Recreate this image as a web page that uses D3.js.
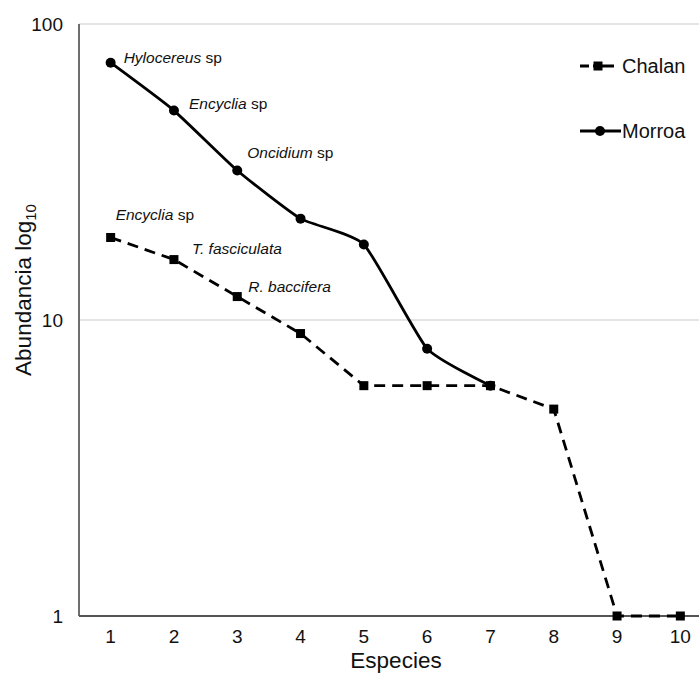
<!DOCTYPE html>
<html lang="es">
<head>
    <meta charset="UTF-8">
    <title>Abundancia por especie</title>
    <script src="https://d3js.org/d3.v7.min.js"></script>
    <style>
        body {
            margin: 0;
            background-color: white;
            font-family: "Liberation Sans", Arial, sans-serif;
        }
        svg {
            display: block;
        }
        .tick-label {
            font-size: 19px;
            fill: #111;
        }
        .axis-title {
            font-size: 22.5px;
            fill: #111;
        }
        .legend-text {
            font-size: 20px;
            fill: #111;
        }
        .note {
            font-size: 15.5px;
            fill: #111;
        }
    </style>
</head>
<body>
    <svg width="699" height="673"></svg>

    <script>
        const species = [1, 2, 3, 4, 5, 6, 7, 8, 9, 10];
        const chalan = [19, 16, 12, 9, 6, 6, 6, 5, 1, 1];
        const morroa = [74, 51, 32, 22, 18, 8, 6];
        const yTicks = [1, 10, 100];

        // species names written next to the first three points of each site
        const morroaNotes = [["Hylocereus", " sp"], ["Encyclia", " sp"], ["Oncidium", " sp"]];
        const chalanNotes = [["Encyclia", " sp"], ["T. fasciculata", ""], ["R. baccifera", ""]];

        const svg = d3.select("svg"),
              plotLeft = 79, plotRight = 712, plotTop = 24, plotBottom = 616;

        const x = d3.scalePoint()
            .domain(species)
            .range([plotLeft, plotRight])
            .padding(0.5);

        const y = d3.scaleLog()
            .domain([1, 100])
            .range([plotBottom, plotTop]);

        // gridlines at 10 and 100
        svg.append("g")
            .selectAll("line")
            .data(yTicks.filter(d => d > 1))
            .enter().append("line")
            .attr("x1", plotLeft)
            .attr("x2", 699)
            .attr("y1", d => y(d))
            .attr("y2", d => y(d))
            .attr("stroke", "#dcdcdc")
            .attr("stroke-width", 1.5);

        // axes
        svg.append("line")
            .attr("x1", plotLeft).attr("x2", plotLeft)
            .attr("y1", plotTop).attr("y2", plotBottom)
            .attr("stroke", "#6e6e6e")
            .attr("stroke-width", 2);

        svg.append("line")
            .attr("x1", plotLeft).attr("x2", 699)
            .attr("y1", plotBottom).attr("y2", plotBottom)
            .attr("stroke", "#555")
            .attr("stroke-width", 2);

        svg.append("g")
            .selectAll("text")
            .data(yTicks)
            .enter().append("text")
            .attr("class", "tick-label")
            .attr("x", plotLeft - 16)
            .attr("y", d => y(d) + 7)
            .attr("text-anchor", "end")
            .text(d => d);

        svg.append("g")
            .selectAll("text")
            .data(species)
            .enter().append("text")
            .attr("class", "tick-label")
            .attr("x", d => x(d))
            .attr("y", 643)
            .attr("text-anchor", "middle")
            .text(d => d);

        svg.append("text")
            .attr("class", "axis-title")
            .attr("x", 396)
            .attr("y", 668)
            .attr("text-anchor", "middle")
            .text("Especies");

        const yTitle = svg.append("text")
            .attr("class", "axis-title")
            .attr("transform", "translate(31,290) rotate(-90)")
            .attr("text-anchor", "middle");
        yTitle.append("tspan").text("Abundancia log");
        yTitle.append("tspan").attr("font-size", "15px").attr("dy", 5).text("10");

        // series
        const chalanPts = chalan.map((v, i) => [x(species[i]), y(v)]);
        const morroaPts = morroa.map((v, i) => [x(species[i]), y(v)]);

        svg.append("path")
            .attr("d", d3.line()(chalanPts))
            .attr("fill", "none")
            .attr("stroke", "#000")
            .attr("stroke-width", 2.8)
            .attr("stroke-dasharray", "11,7");

        svg.append("g")
            .selectAll("rect")
            .data(chalanPts)
            .enter().append("rect")
            .attr("x", d => d[0] - 4.5)
            .attr("y", d => d[1] - 4.5)
            .attr("width", 9)
            .attr("height", 9)
            .attr("fill", "#000");

        svg.append("path")
            .attr("d", d3.line().curve(d3.curveCardinal.tension(0.5))(morroaPts))
            .attr("fill", "none")
            .attr("stroke", "#000")
            .attr("stroke-width", 2.8);

        svg.append("g")
            .selectAll("circle")
            .data(morroaPts)
            .enter().append("circle")
            .attr("cx", d => d[0])
            .attr("cy", d => d[1])
            .attr("r", 5)
            .attr("fill", "#000");

        // species notes
        function addNotes(notes, pts, offsets) {
            notes.forEach((n, i) => {
                const t = svg.append("text")
                    .attr("class", "note")
                    .attr("x", pts[i][0] + offsets[i][0])
                    .attr("y", pts[i][1] + offsets[i][1]);
                t.append("tspan").attr("font-style", "italic").text(n[0]);
                if (n[1]) t.append("tspan").text(n[1]);
            });
        }
        addNotes(morroaNotes, morroaPts, [[13, 0], [15, -2], [10, -12]]);
        addNotes(chalanNotes, chalanPts, [[5, -17], [18, -6], [11, -5]]);

        // legend
        const legend = svg.append("g");

        legend.append("line")
            .attr("x1", 580).attr("x2", 614).attr("y1", 66).attr("y2", 66)
            .attr("stroke", "#000").attr("stroke-width", 2.8)
            .attr("stroke-dasharray", "9,4,21");
        legend.append("rect")
            .attr("x", 593.5).attr("y", 61.5).attr("width", 9).attr("height", 9)
            .attr("fill", "#000");
        legend.append("text")
            .attr("class", "legend-text")
            .attr("x", 622).attr("y", 73)
            .text("Chalan");

        legend.append("line")
            .attr("x1", 580).attr("x2", 621).attr("y1", 131).attr("y2", 131)
            .attr("stroke", "#000").attr("stroke-width", 2.8);
        legend.append("circle")
            .attr("cx", 600).attr("cy", 131).attr("r", 5)
            .attr("fill", "#000");
        legend.append("text")
            .attr("class", "legend-text")
            .attr("x", 622).attr("y", 138)
            .text("Morroa");
    </script>
</body>
</html>
